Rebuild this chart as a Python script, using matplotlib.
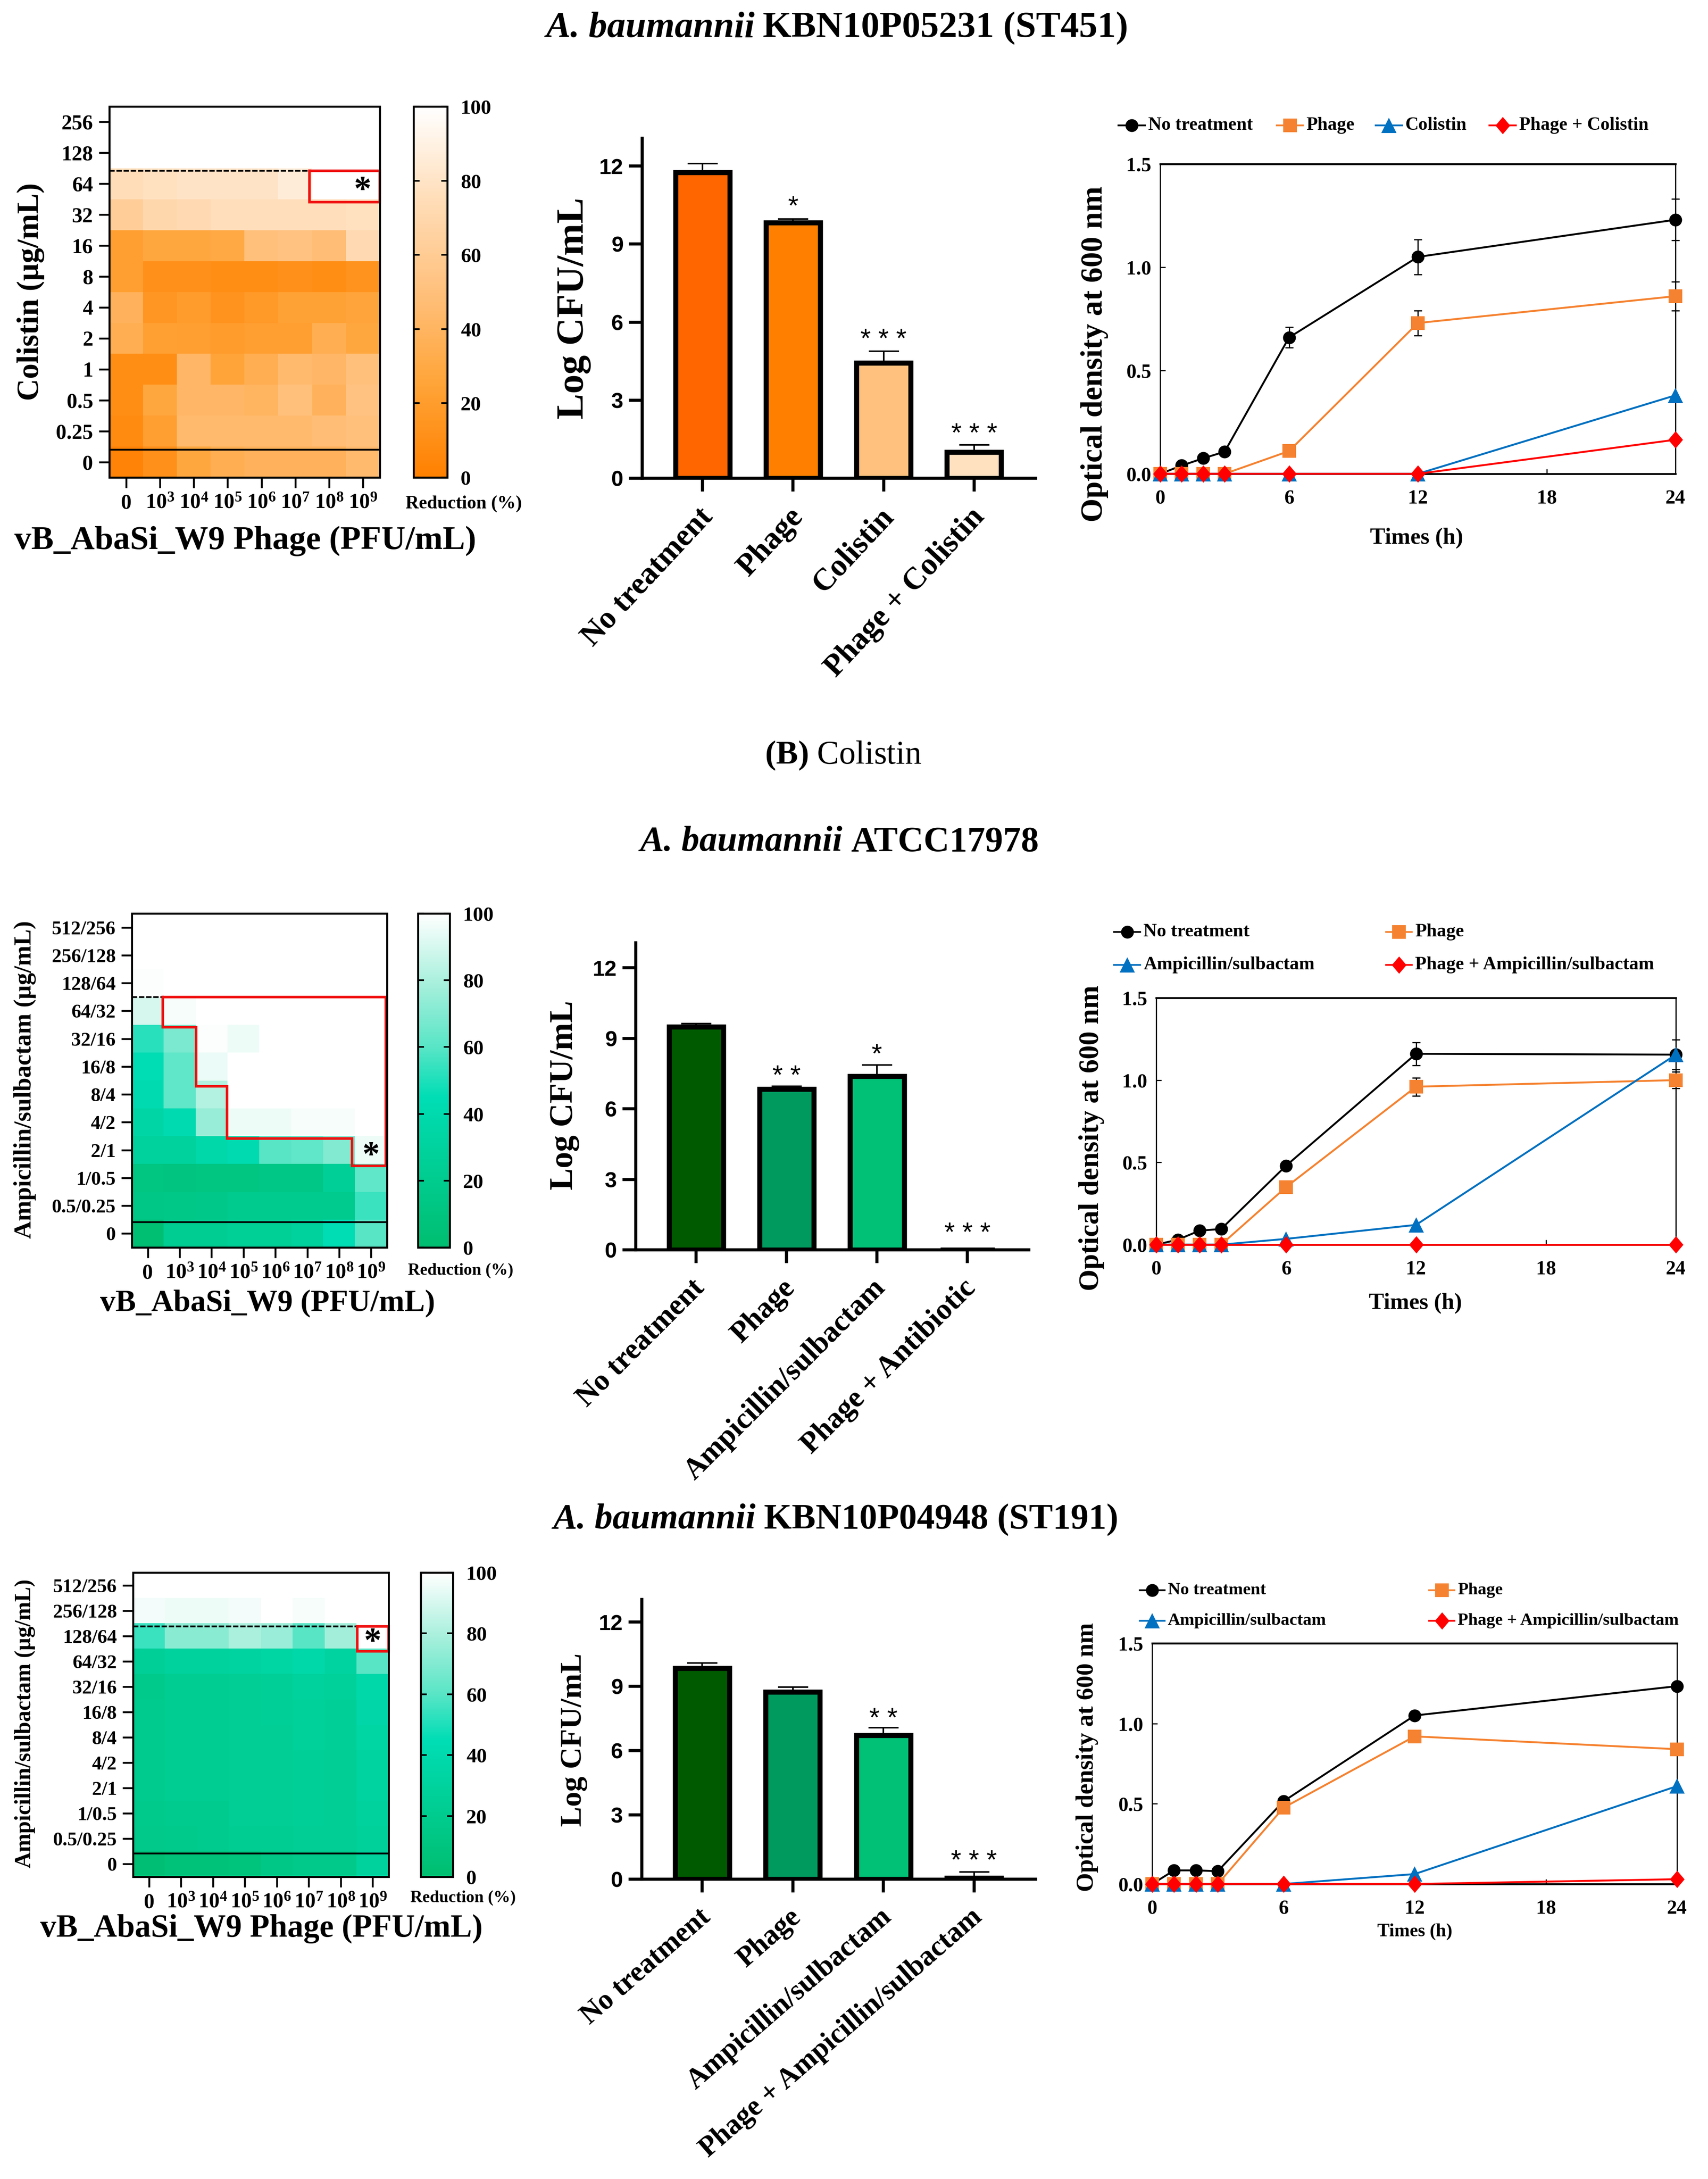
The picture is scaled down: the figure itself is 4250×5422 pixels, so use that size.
import numpy as np
from matplotlib import pyplot as plt
from matplotlib.colors import LinearSegmentedColormap
from matplotlib.lines import Line2D
from matplotlib.transforms import ScaledTranslation

W, H = 4250, 5422
plt.rcParams['font.family'] = ['Liberation Serif', 'DejaVu Serif']
plt.rcParams['font.weight'] = 'bold'
plt.rcParams['mathtext.fontset'] = 'custom'
plt.rcParams['mathtext.bf'] = 'Liberation Serif:bold'
plt.rcParams['mathtext.rm'] = 'Liberation Serif'

phage_labels = ['0', r'$\mathbf{10^{3}}$', r'$\mathbf{10^{4}}$', r'$\mathbf{10^{5}}$',
                r'$\mathbf{10^{6}}$', r'$\mathbf{10^{7}}$', r'$\mathbf{10^{8}}$', r'$\mathbf{10^{9}}$']
colistin_labels = ['0', '0.25', '0.5', '1', '2', '4', '8', '16', '32', '64', '128', '256']
ampsul_labels = ['0', '0.5/0.25', '1/0.5', '2/1', '4/2', '8/4', '16/8', '32/16',
                 '64/32', '128/64', '256/128', '512/256']

# heatmap rows run from the lowest concentration upward
heat_colistin = [
    [3, 12, 28, 35, 38, 38, 38, 45],
    [8, 22, 45, 45, 45, 45, 48, 50],
    [10, 28, 42, 42, 40, 50, 38, 52],
    [10, 10, 42, 25, 35, 45, 42, 50],
    [35, 23, 22, 20, 22, 22, 35, 28],
    [38, 16, 20, 14, 18, 24, 24, 26],
    [22, 12, 12, 10, 10, 12, 10, 14],
    [22, 28, 28, 30, 50, 52, 48, 72],
    [62, 70, 72, 76, 76, 76, 76, 78],
    [75, 78, 80, 80, 80, 86, 100, 100],
    [100, 100, 100, 100, 100, 100, 100, 100],
    [100, 100, 100, 100, 100, 100, 100, 100],
]
heat_atcc = [
    [2, 22, 22, 25, 25, 30, 45, 60],
    [14, 15, 16, 20, 20, 20, 20, 55],
    [12, 10, 12, 12, 14, 14, 26, 62],
    [30, 30, 38, 42, 60, 62, 70, 96],
    [35, 42, 75, 96, 96, 98, 98, 100],
    [42, 62, 82, 100, 100, 100, 100, 100],
    [44, 62, 95, 100, 100, 100, 100, 100],
    [52, 68, 99, 96, 100, 100, 100, 100],
    [90, 98, 100, 100, 100, 100, 100, 100],
    [99, 100, 100, 100, 100, 100, 100, 100],
    [100, 100, 100, 100, 100, 100, 100, 100],
    [100, 100, 100, 100, 100, 100, 100, 100],
]
heat_st191 = [
    [3, 6, 6, 8, 14, 17, 17, 30],
    [17, 18, 20, 22, 22, 24, 24, 28],
    [18, 20, 20, 24, 24, 26, 24, 30],
    [20, 22, 22, 24, 24, 26, 24, 32],
    [20, 22, 22, 24, 24, 26, 24, 32],
    [20, 22, 22, 24, 24, 28, 26, 34],
    [20, 22, 22, 24, 26, 28, 26, 36],
    [18, 22, 22, 24, 26, 30, 28, 38],
    [26, 30, 30, 32, 34, 38, 32, 60],
    [55, 72, 72, 80, 76, 60, 78, 100],
    [97, 96, 96, 97, 100, 98, 100, 100],
    [100, 100, 100, 100, 100, 100, 100, 100],
]

# synergy outlines in cell units
box_colistin_x = [5.42, 7.5, 7.5, 5.42, 5.42]
box_colistin_y = [9.42, 9.42, 8.41, 8.41, 9.42]
box_atcc_x = [0.47, 7.46, 7.46, 6.40, 6.40, 2.49, 2.49, 1.51, 1.51, 0.47, 0.47]
box_atcc_y = [8.50, 8.50, 2.43, 2.43, 3.42, 3.42, 5.29, 5.29, 7.41, 7.41, 8.50]
box_st191_x = [6.52, 7.5, 7.5, 6.52, 6.52]
box_st191_y = [9.38, 9.38, 8.39, 8.39, 9.38]

bar_labels_colistin = ['No treatment', 'Phage', 'Colistin', 'Phage + Colistin']
bar_values_colistin = [11.76, 9.83, 4.43, 1.0]
bar_errors_colistin = [0.34, 0.13, 0.45, 0.29]
bar_stars_colistin = ['', '*', '* * *', '* * *']
bar_labels_atcc = ['No treatment', 'Phage', 'Ampicillin/sulbactam', 'Phage + Antibiotic']
bar_values_atcc = [9.48, 6.84, 7.38, 0]
bar_errors_atcc = [0.15, 0.12, 0.48, 0]
bar_stars_atcc = ['', '* *', '*', '* * *']
bar_labels_st191 = ['No treatment', 'Phage', 'Ampicillin/sulbactam', 'Phage + Ampicillin/sulbactam']
bar_values_st191 = [9.85, 8.74, 6.71, 0.05]
bar_errors_st191 = [0.24, 0.22, 0.35, 0.28]
bar_stars_st191 = ['', '', '* *', '* * *']

hours = [0, 1, 2, 3, 6, 12, 24]
od_colistin = {
    'none': [0, 0.04, 0.075, 0.107, 0.66, 1.05, 1.23],
    'phage': [0, 0, 0, 0, 0.11, 0.73, 0.86],
    'drug': [0, 0, 0, 0, 0, 0, 0.38],
    'combo': [0, 0, 0, 0, 0, 0, 0.165],
}
od_err_colistin = {'none': [0, 0, 0, 0, 0.05, 0.085, 0.10], 'phage': [0, 0, 0, 0, 0, 0.06, 0.07]}
od_atcc = {
    'none': [0, 0.03, 0.085, 0.095, 0.48, 1.16, 1.155],
    'phage': [0, 0, 0, 0, 0.35, 0.96, 1.0],
    'drug': [0, 0, 0, 0, 0.035, 0.12, 1.155],
    'combo': [0, 0, 0, 0, 0, 0, 0],
}
od_err_atcc = {'none': [0, 0, 0, 0, 0, 0.07, 0.09], 'phage': [0, 0, 0, 0, 0, 0.055, 0.05]}
od_st191 = {
    'none': [0, 0.085, 0.085, 0.08, 0.515, 1.05, 1.233],
    'phage': [0, 0, 0, 0, 0.475, 0.92, 0.84],
    'drug': [0, 0, 0, 0, 0, 0.062, 0.61],
    'combo': [0, 0, 0, 0, 0, 0, 0.03],
}
od_err_st191 = {'none': [0] * 7, 'phage': [0] * 7}

orange_map = LinearSegmentedColormap.from_list('orange', ['#FF8000', '#FFA438', '#FFC07C', '#FFDDB8', '#FFFFFF'])
green_map = LinearSegmentedColormap.from_list(
    'green', [(0, '#00BE70'), (0.45, '#00DDB5'), (0.6, '#58E5C6'), (0.8, '#ABF0DD'), (1, '#FFFFFF')])
orange_bars = ['#FF6600', '#FF8000', '#FFC17D', '#FFE0BF']
green_bars = ['#005A00', '#009A5E', '#00C176', '#00C176']
narrow_diamond = [(0, 1), (0.85, 0), (0, -1), (-0.85, 0), (0, 1)]
line_style = {
    'none': ('#000000', 'o', 23),
    'phage': ('#F58230', 's', 25),
    'drug': ('#0070C0', '^', 27),
    'combo': ('#FF0000', narrow_diamond, 31),
}

fig = plt.figure(figsize=(W / 100, H / 100), dpi=100)


def rect_axes(left, top, right, bottom):
    return fig.add_axes([left / W, 1 - bottom / H, (right - left) / W, (bottom - top) / H])


def heatmap(rect, cbar_x, data, cmap, ylabels, ytick_size, box_x, box_y, solid_y, dash_y, star_xy):
    ax = rect_axes(*rect)
    im = ax.imshow(np.array(data), cmap=cmap, vmin=0, vmax=100, origin='lower', aspect='auto',
                   interpolation='nearest')
    ax.set_xticks(range(8), phage_labels, fontsize=38)
    ax.set_yticks(range(12), ylabels, fontsize=ytick_size)
    ax.tick_params(length=19, width=3.3, pad=10)
    for spine in ax.spines.values():
        spine.set_linewidth(3.6)
    ax.plot([-0.5, 7.45], [solid_y, solid_y], color='black', lw=3.2)
    ax.plot([-0.5, box_x[0]], [dash_y, dash_y], color='black', lw=3.2, ls=(0, (3, 1)))
    ax.plot(box_x, box_y, color='#F01010', lw=4.6, clip_on=False, solid_joinstyle='miter')
    ax.text(star_xy[0], star_xy[1], '*', fontsize=62, ha='center', va='center')

    cax = rect_axes(cbar_x[0], rect[1], cbar_x[1], rect[3])
    cb = fig.colorbar(im, cax=cax, ticks=[0, 20, 40, 60, 80, 100])
    cb.outline.set_linewidth(3.6)
    cax.tick_params(direction='in', left=True, right=True, length=11, width=3, pad=24, labelsize=37)


def barplot(rect, labels, values, errors, colors, stars, star_y, ylim_top, tick_size, rotation, shift):
    ax = rect_axes(*rect)
    x = np.arange(4)
    ax.bar(x, values, width=0.6, color=colors, edgecolor='black', linewidth=9, zorder=2)
    ax.errorbar(x, values, yerr=[[0] * 4, errors], fmt='none', ecolor='black', elinewidth=2.8,
                capsize=27, capthick=2.8, zorder=1)
    for i in x:
        if stars[i]:
            ax.text(i, star_y[i], stars[i], fontsize=48, ha='center', va='center',
                    family=['Liberation Sans'], fontweight='normal')
    ax.set_xlim(-0.667, 3.68)
    ax.set_ylim(0, ylim_top)
    ax.spines[['top', 'right']].set_visible(False)
    ax.spines[['left', 'bottom']].set_linewidth(5.5)
    ax.set_yticks([0, 3, 6, 9, 12])
    ax.set_yticklabels(['0', '3', '6', '9', '12'], family=['Liberation Sans'], fontsize=39)
    ax.set_xticks(x)
    ax.set_xticklabels(labels, rotation=rotation, ha='right', rotation_mode='anchor', fontsize=tick_size)
    ax.tick_params(length=24, width=5.5, pad=10)
    ax.tick_params(axis='x', pad=20)
    offset = ScaledTranslation(shift / 100, 0, fig.dpi_scale_trans)
    for tick_label in ax.get_xticklabels():
        tick_label.set_transform(tick_label.get_transform() + offset)


def lineplot(rect, od, err):
    ax = rect_axes(*rect)
    for key in ['none', 'phage', 'drug', 'combo']:
        color, marker, size = line_style[key]
        if key in err:
            ax.errorbar(hours, od[key], yerr=err[key], fmt='none', ecolor='black', elinewidth=2.2,
                        capsize=7, capthick=2.2, clip_on=False, zorder=3)
        ax.plot(hours, od[key], color=color, lw=3.4, marker=marker, ms=size, mew=0, clip_on=False, zorder=4)
    ax.set_xlim(0, 24)
    ax.set_ylim(0, 1.5)
    ax.set_xticks([0, 6, 12, 18, 24])
    ax.set_yticks([0, 0.5, 1.0, 1.5], ['0.0', '0.5', '1.0', '1.5'])
    ax.tick_params(direction='in', length=9, width=2, labelsize=36)
    ax.tick_params(axis='x', pad=28)
    ax.tick_params(axis='y', pad=16)
    ax.spines['left'].set_linewidth(2.2)
    ax.spines['right'].set_linewidth(2.2)
    ax.spines['top'].set_linewidth(3.4)
    ax.spines['bottom'].set_linewidth(3.4)


heatmap((272, 265, 945, 1188), (1029, 1113), heat_colistin, orange_map, colistin_labels, 38,
        box_colistin_x, box_colistin_y, 0.40, 9.42, (6.99, 8.75))
heatmap((328, 2273, 963, 3104), (1040, 1119), heat_atcc, green_map, ampsul_labels, 35,
        box_atcc_x, box_atcc_y, 0.41, 8.50, (7.0, 2.75))
heatmap((331, 3913, 967, 4670), (1047, 1127), heat_st191, green_map, ampsul_labels, 35,
        box_st191_x, box_st191_y, 0.42, 9.38, (7.0, 8.72))

barplot((1598, 344, 2577, 1190), bar_labels_colistin, bar_values_colistin, bar_errors_colistin,
        orange_bars, bar_stars_colistin, [0, 10.4, 5.3, 1.67], 13.07, 56, 47, -12)
barplot((1582, 2346, 2560, 3110), bar_labels_atcc, bar_values_atcc, bar_errors_atcc,
        green_bars, bar_stars_atcc, [0, 7.35, 8.26, 0.67], 13.06, 53, 45, -14)
barplot((1597, 3980, 2577, 4676), bar_labels_st191, bar_values_st191, bar_errors_st191,
        green_bars, bar_stars_st191, [0, 0, 7.44, 0.8], 13.05, 51, 41, -10)

lineplot((2887, 408, 4169, 1179), od_colistin, od_err_colistin)
lineplot((2877, 2483, 4170, 3097), od_atcc, od_err_atcc)
lineplot((2867, 4089, 4173, 4688), od_st191, od_err_st191)

# overlay in reference pixels for titles, axis names and the free-standing legends
ov = fig.add_axes([0, 0, 1, 1])
ov.set_xlim(0, W)
ov.set_ylim(H, 0)
ov.axis('off')
ov.patch.set_alpha(0)


def label(x, y, text, size, rotation=0, **kw):
    ov.text(x, y, text, fontsize=size, rotation=rotation, ha='center', va='center', **kw)


def title(x_join, y, italic, plain, size):
    ov.text(x_join - 10, y, italic, fontsize=size, style='italic', ha='right', va='center')
    ov.text(x_join + 10, y, plain, fontsize=size, ha='left', va='center')


title(1888, 70, 'A. baumannii', 'KBN10P05231 (ST451)', 66)
title(2107, 2096, 'A. baumannii', 'ATCC17978', 64)
title(1891, 3782, 'A. baumannii', 'KBN10P04948 (ST191)', 64)
ov.text(2098, 1880, r'$\mathrm{(}\mathbf{B}\mathrm{)}$ Colistin', fontsize=59, fontweight='normal',
        ha='center', va='center')

label(76, 726, 'Colistin (µg/mL)', 55, 90)
label(610, 1346, 'vB_AbaSi_W9 Phage (PFU/mL)', 60)
label(1154, 1254, 'Reduction (%)', 33)
label(62, 2687, 'Ampicillin/sulbactam (µg/mL)', 44, 90)
label(666, 3243, 'vB_AbaSi_W9 (PFU/mL)', 55)
label(1146, 3162, 'Reduction (%)', 30)
label(62, 4289, 'Ampicillin/sulbactam (µg/mL)', 40, 90)
label(650, 4799, 'vB_AbaSi_W9 Phage (PFU/mL)', 57.5)
label(1152, 4723, 'Reduction (%)', 30)

label(1428, 767, 'Log CFU/mL', 69, 90)
label(1404, 2725, 'Log CFU/mL', 59, 90)
label(1428, 4329, 'Log CFU/mL', 54, 90)

label(2723, 881, 'Optical density at 600 nm', 55, 90)
label(2716, 2832, 'Optical density at 600 nm', 50, 90)
label(2705, 4372, 'Optical density at 600 nm', 44, 90)
label(3525, 1339, 'Times (h)', 41)
label(3522, 3243, 'Times (h)', 41)
label(3520, 4807, 'Times (h)', 33)


def legend_entry(x0, x1, y, key, text, size):
    color, marker, ms = line_style[key]
    ov.add_line(Line2D([x0, x1], [y, y], color=color, lw=3.2))
    ov.add_line(Line2D([(x0 + x1) / 2], [y], color=color, marker=marker, ms=ms, mew=0))
    ov.text(x1 + 8, y, text, fontsize=size, ha='left', va='center')


legend_entry(2783, 2849, 312, 'none', 'No treatment', 33)
legend_entry(3177, 3242, 312, 'phage', 'Phage', 33)
legend_entry(3423, 3489, 312, 'drug', 'Colistin', 33)
legend_entry(3706, 3772, 312, 'combo', 'Phage + Colistin', 33)

legend_entry(2772, 2837, 2319, 'none', 'No treatment', 33.5)
legend_entry(3449, 3513, 2319, 'phage', 'Phage', 33.5)
legend_entry(2772, 2837, 2401, 'drug', 'Ampicillin/sulbactam', 33.5)
legend_entry(3449, 3513, 2401, 'combo', 'Phage + Ampicillin/sulbactam', 33.5)

legend_entry(2836, 2898, 3957, 'none', 'No treatment', 31)
legend_entry(3556, 3619, 3957, 'phage', 'Phage', 31)
legend_entry(2836, 2898, 4033, 'drug', 'Ampicillin/sulbactam', 31)
legend_entry(3556, 3619, 4033, 'combo', 'Phage + Ampicillin/sulbactam', 31)

fig.savefig('out.png', dpi=100)
